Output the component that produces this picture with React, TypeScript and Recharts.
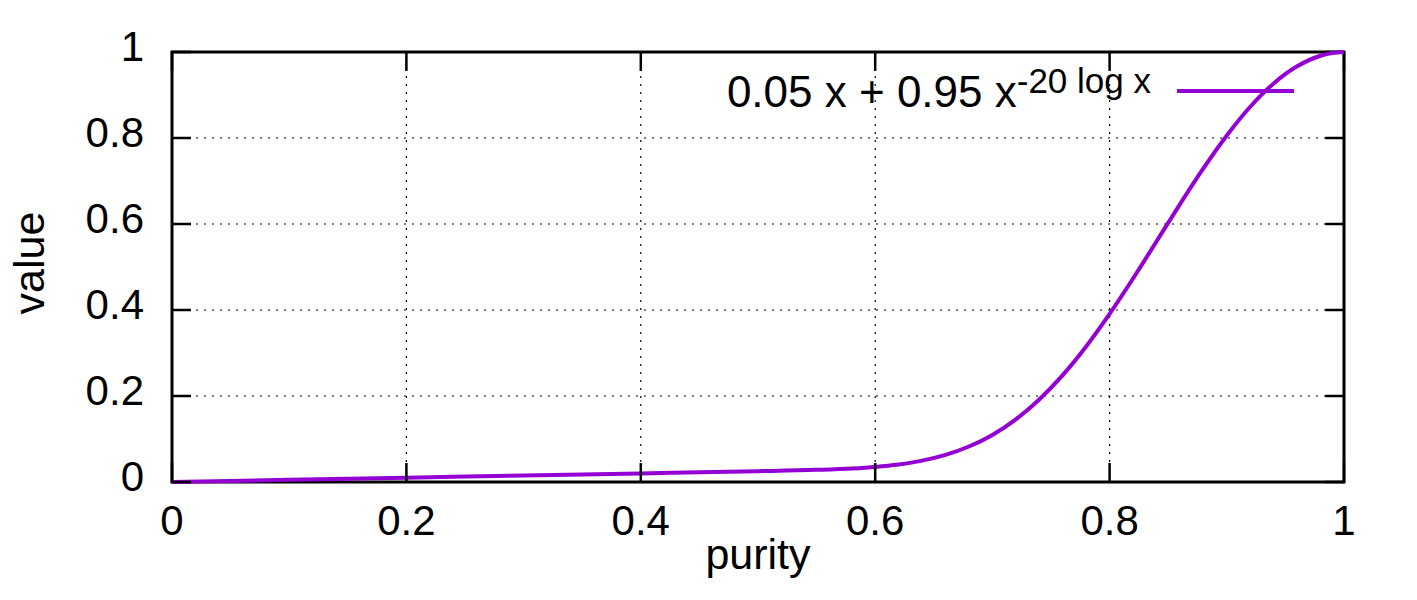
import { LineChart, Line, XAxis, YAxis, CartesianGrid, ReferenceArea, ReferenceLine, Legend, Label } from 'recharts';

// purity values sampled along the curve, denser where it bends
const PURITY = [
  0, 0.1, 0.2, 0.3, 0.4, 0.45, 0.5, 0.55, 0.58, 0.6, 0.62, 0.64, 0.66, 0.68, 0.7,
  0.72, 0.74, 0.76, 0.78, 0.8, 0.82, 0.84, 0.86, 0.88, 0.9, 0.92, 0.94, 0.96, 0.98, 0.99, 1,
];
const VALUE = [
  0, 0.005, 0.01, 0.015, 0.02, 0.0225, 0.0251, 0.0283, 0.0315, 0.0351, 0.0408, 0.0497, 0.0631, 0.0825, 0.1095,
  0.1458, 0.192, 0.2487, 0.3153, 0.3909, 0.4732, 0.5593, 0.6458, 0.7292, 0.8059, 0.8727, 0.927, 0.9668, 0.9913, 0.9976, 1,
];
const X_TICKS = [0, 0.2, 0.4, 0.6, 0.8, 1];
const Y_TICKS = [0, 0.2, 0.4, 0.6, 0.8, 1];

const data = PURITY.map((x, i) => ({ x, y: VALUE[i] }));

const FONT = '"Liberation Sans", Arial, Helvetica, sans-serif';
const PURPLE = '#9400d3';
const TICK_PX = 19;
const TICK_X = 0.016; // ~19px inward tick along x (mirrored side)
const TICK_Y = 0.044; // ~19px inward tick along y (mirrored side)

function LegendBox() {
  return (
    <svg width={1417} height={130} style={{ display: 'block' }}>
      <text x={1151} y={107} textAnchor="end" fontSize={44} fill="#000" fontFamily={FONT}>
        <tspan>0.05 x + 0.95 x</tspan>
        <tspan dy={-14} fontSize={35}>-20 log x</tspan>
      </text>
      <line x1={1177} x2={1294} y1={91} y2={91} stroke={PURPLE} strokeWidth={4} />
    </svg>
  );
}

export default function App() {
  return (
    <div style={{ position: 'absolute', left: 0, top: 0, fontFamily: FONT, background: '#fff' }}>
      <LineChart width={1417} height={600} data={data} margin={{ top: 52, right: 73, bottom: 0, left: 0 }}>
        <CartesianGrid stroke="#000" strokeWidth={1.2} strokeDasharray="2 6" />
        <XAxis
          dataKey="x"
          type="number"
          domain={[0, 1]}
          ticks={X_TICKS}
          tickFormatter={(v) => String(v)}
          height={118}
          axisLine={false}
          tickLine={{ stroke: '#000', strokeWidth: 2.5 }}
          tickSize={-TICK_PX}
          tickMargin={23 + TICK_PX}
          tick={{ fontSize: 42, fill: '#000' }}
        >
          <Label value="purity" position="insideBottom" offset={31} fontSize={43} fill="#000" />
        </XAxis>
        <YAxis
          type="number"
          domain={[0, 1]}
          ticks={Y_TICKS}
          tickFormatter={(v) => String(v)}
          width={172}
          axisLine={false}
          tickLine={{ stroke: '#000', strokeWidth: 2.5 }}
          tickSize={-TICK_PX}
          tickMargin={28 + TICK_PX}
          tick={{ fontSize: 42, fill: '#000', dy: -6 }}
          label={({ viewBox }: any) => {
            const cx = viewBox.x + 44;
            const cy = viewBox.y + viewBox.height / 2 - 4;
            return (
              <text x={cx} y={cy} textAnchor="middle" fontSize={43} fill="#000" transform={`rotate(-90, ${cx}, ${cy})`}>
                value
              </text>
            );
          }}
        />
        <ReferenceArea x1={0} x2={1} y1={0} y2={1} fill="none" stroke="#000" strokeWidth={3} ifOverflow="visible" />
        {X_TICKS.map((t) => (
          <ReferenceLine
            key={`t${t}`}
            segment={[{ x: t, y: 1 }, { x: t, y: 1 - TICK_Y }]}
            stroke="#000"
            strokeWidth={2.5}
            ifOverflow="visible"
          />
        ))}
        {Y_TICKS.map((t) => (
          <ReferenceLine
            key={`r${t}`}
            segment={[{ x: 1, y: t }, { x: 1 - TICK_X, y: t }]}
            stroke="#000"
            strokeWidth={2.5}
            ifOverflow="visible"
          />
        ))}
        <Legend
          layout="vertical"
          align="center"
          verticalAlign="middle"
          content={() => <LegendBox />}
          wrapperStyle={{ position: 'absolute', left: 0, top: 0, width: 1417, height: 130 }}
        />
        <Line
          dataKey="y"
          type="monotone"
          stroke={PURPLE}
          strokeWidth={4}
          dot={false}
          activeDot={false}
          isAnimationActive={false}
        />
      </LineChart>
    </div>
  );
}
